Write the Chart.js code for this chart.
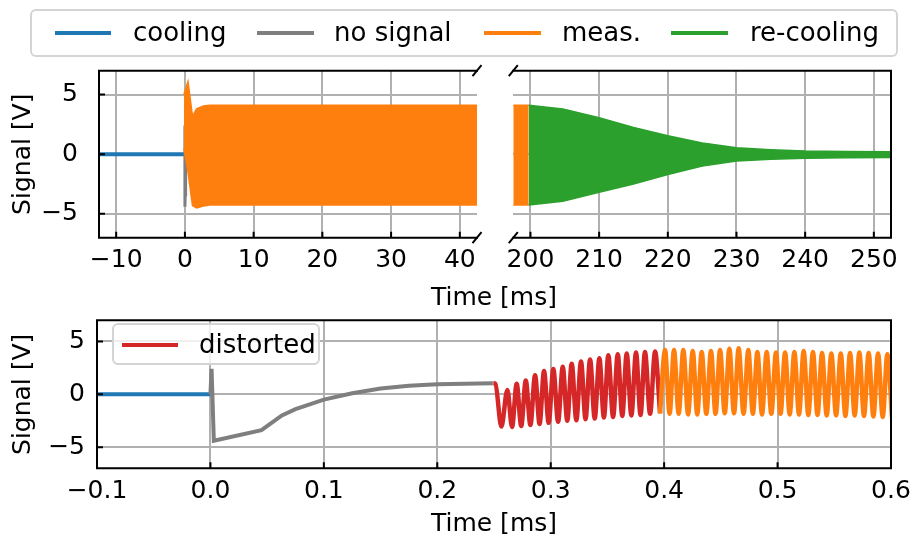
<!DOCTYPE html>
<html lang="en">
<head>
  <meta charset="UTF-8" />
  <title>Signal trace</title>
  <script src="https://cdn.jsdelivr.net/npm/chart.js"></script>
  <style>
    body { margin: 0; background: #fff; }
    #fig {
      position: relative;
      width: 914px;
      height: 537px;
      overflow: hidden;
      font-family: 'DejaVu Sans', sans-serif;
      color: #000;
    }
    .panel { position: absolute; }
    .legend-box {
      position: absolute;
      box-sizing: border-box;
      border: 2px solid #d4d4d4;
      border-radius: 6px;
      background: rgba(255, 255, 255, 0.8);
    }
    .handle { position: absolute; height: 4px; }
    .lbl { position: absolute; font-size: 26px; line-height: 30px; white-space: nowrap; }
    .axis-title { position: absolute; font-size: 25px; line-height: 30px; text-align: center; white-space: nowrap; }
  </style>
</head>
<body>
<div id="fig">
  <div class="panel" style="left:0;top:50px"><canvas id="topLeft" width="500" height="260"></canvas></div>
  <div class="panel" style="left:490px;top:50px"><canvas id="topRight" width="424" height="260"></canvas></div>
  <div class="panel" style="left:0;top:300px"><canvas id="bottom" width="914" height="237"></canvas></div>

  <!-- shared x title of the two top panels -->
  <div class="axis-title" style="left:394px;top:282px;width:200px">Time [ms]</div>

  <!-- top legend -->
  <div class="legend-box" style="left:30px;top:9px;width:868px;height:48px"></div>
  <div class="handle" style="left:55px;top:31px;width:56px;background:#1f77b4"></div>
  <div class="lbl" style="left:133px;top:17px">cooling</div>
  <div class="handle" style="left:257px;top:31px;width:57px;background:#7f7f7f"></div>
  <div class="lbl" style="left:334px;top:17px">no signal</div>
  <div class="handle" style="left:484px;top:31px;width:57px;background:#ff7f0e"></div>
  <div class="lbl" style="left:562px;top:17px">meas.</div>
  <div class="handle" style="left:671px;top:31px;width:57px;background:#2ca02c"></div>
  <div class="lbl" style="left:750px;top:17px">re-cooling</div>

  <!-- bottom legend -->
  <div class="legend-box" style="left:112px;top:323px;width:208px;height:42px"></div>
  <div class="handle" style="left:122px;top:343px;width:56px;background:#d62728"></div>
  <div class="lbl" style="left:199px;top:329px">distorted</div>
</div>

<script>
  // ---- data ----
  // tick positions
  const signalTicks = [-5, 0, 5];
  const topLeftTicks = [-10, 0, 10, 20, 30, 40];
  const topRightTicks = [200, 210, 220, 230, 240, 250];
  const bottomTicks = [-0.1, 0.0, 0.1, 0.2, 0.3, 0.4, 0.5, 0.6];

  // cooling: flat around 0 V before the pulse (ms)
  const coolingT = [-12.5, 0.0];
  const coolingV = [0.0, 0.0];

  // no signal: spike at 0 then slow recovery until 0.25 ms
  const noSignalT = [0.0, 0.001, 0.003, 0.045, 0.063, 0.075, 0.1, 0.125, 0.15, 0.175, 0.2, 0.249];
  const noSignalV = [0.0, 2.4, -4.4, -3.4, -2.0, -1.4, -0.5, 0.1, 0.55, 0.8, 0.95, 1.05];

  // meas. envelope on the long time base (upper / lower edge of the band)
  const measEnvT = [-0.15, 0.45, 1.1, 1.7, 2.7, 3.6, 42.5, 199.75];
  const measEnvUpper = [5.0, 6.1, 3.2, 3.8, 4.05, 4.1, 4.1, 4.1];
  const measEnvLower = [0.5, -1.5, -4.3, -4.5, -4.35, -4.25, -4.25, -4.25];

  // re-cooling envelope (ms)
  const recoolT = [199.75, 204.7, 210, 215, 220, 225, 230, 235, 240, 246, 252.5];
  const recoolUpper = [4.1, 3.8, 3.05, 2.25, 1.55, 0.95, 0.55, 0.38, 0.27, 0.22, 0.2];
  const recoolLower = [-4.25, -3.95, -3.2, -2.5, -1.7, -1.0, -0.58, -0.42, -0.35, -0.3, -0.28];

  // distorted: first oscillations, extremum by extremum (ms, V)
  const distortedT = [0.2494, 0.2512, 0.2565, 0.2618, 0.2659, 0.2700, 0.2740, 0.2780, 0.2821, 0.2862,
    0.2902, 0.2941, 0.2982, 0.3023, 0.3065, 0.3106, 0.3146, 0.3185, 0.3226, 0.3267, 0.3307, 0.3347,
    0.3388, 0.3429, 0.3469, 0.3508, 0.3550, 0.3591, 0.3631, 0.3670, 0.3711, 0.3752, 0.3792, 0.3831,
    0.3876, 0.3920, 0.3964];
  const distortedV = [1.05, 1.0, -3.05, 0.4, -3.1, 1.0, -3.0, 1.3, -2.9, 1.8, -2.8, 2.2, -2.7, 2.4,
    -2.6, 2.6, -2.5, 2.9, -2.45, 3.1, -2.35, 3.3, -2.3, 3.4, -2.2, 3.7, -2.15, 3.8, -2.05, 3.85,
    -2.0, 3.95, -1.95, 4.0, -1.85, 4.05, -1.8];

  // meas.: steady oscillation after 0.4 ms
  const measOscT = [0.3964, 0.4008, 0.4048, 0.4087, 0.4128, 0.4169, 0.4211, 0.4252, 0.4292, 0.4331,
    0.4372, 0.4413, 0.4453, 0.4493, 0.4534, 0.4575, 0.4616, 0.4657, 0.4700, 0.4742, 0.4782, 0.4822,
    0.4863, 0.4904, 0.4945, 0.4986, 0.5026, 0.5066, 0.5107, 0.5148, 0.5189, 0.5230, 0.5271, 0.5312,
    0.5352, 0.5392, 0.5433, 0.5474, 0.5516, 0.5557, 0.5598, 0.5639, 0.5680, 0.5721, 0.5762, 0.5803,
    0.5845, 0.5886, 0.5927, 0.5968, 0.6009];
  const measOscV = [-1.8, 4.2, -1.85, 4.2, -1.85, 4.2, -1.9, 4.1, -1.9, 4.0, -1.85, 4.1, -1.85, 4.2,
    -1.8, 4.3, -1.8, 4.35, -1.85, 4.2, -1.85, 4.0, -1.9, 4.0, -1.85, 3.95, -1.85, 3.95, -1.9, 4.0,
    -1.9, 4.1, -1.95, 4.0, -1.95, 3.9, -2.0, 3.85, -2.0, 3.85, -2.05, 3.9, -2.0, 3.95, -2.05, 3.9,
    -2.1, 3.85, -2.15, 3.8, -2.2];

  // ---- styling helpers ----
  const C = { blue: '#1f77b4', gray: '#7f7f7f', orange: '#ff7f0e', green: '#2ca02c', red: '#d62728' };
  Chart.defaults.font.family = "'DejaVu Sans', sans-serif";
  Chart.defaults.font.size = 25;
  Chart.defaults.color = '#000';

  const pts = (xs, ys) => xs.map((x, i) => ({ x: x, y: ys[i] }));
  const minus = s => String(s).replace('-', '\u2212');

  function line(xs, ys, color, width, extra) {
    return Object.assign({
      data: pts(xs, ys), borderColor: color, backgroundColor: color,
      borderWidth: width, pointRadius: 0, fill: false, clip: 0
    }, extra || {});
  }

  function axis(min, max, ticks, opts) {
    return {
      type: 'linear', min: min, max: max,
      afterBuildTicks: s => { s.ticks = ticks.map(v => ({ value: v })); },
      afterFit: s => {
        if (opts.width != null) s.width = opts.width;
        if (opts.height != null) s.height = opts.height;
        // keep the plot area exactly where the layout padding puts it
        s.paddingTop = s.paddingBottom = s.paddingLeft = s.paddingRight = 0;
      },
      grid: { color: '#b0b0b0', lineWidth: 2, drawTicks: false },
      border: { display: false },
      ticks: {
        display: opts.labels !== false, padding: opts.pad, autoSkip: false, maxRotation: 0,
        callback: opts.fmt || (v => minus(v))
      },
      title: opts.title ? { display: true, text: opts.title, padding: opts.titlePad, font: { size: 25 } } : { display: false }
    };
  }

  // spines, inward ticks and axis-break marks
  const frame = {
    id: 'frame',
    afterDatasetsDraw(chart, args, o) {
      const { ctx, chartArea: a, scales } = chart;
      ctx.save();
      ctx.strokeStyle = '#000';
      ctx.lineWidth = 2;
      ctx.beginPath();
      scales.x.ticks.forEach(t => {
        const px = scales.x.getPixelForValue(t.value);
        ctx.moveTo(px, a.bottom); ctx.lineTo(px, a.bottom - 6);
      });
      if (o.left) scales.y.ticks.forEach(t => {
        const py = scales.y.getPixelForValue(t.value);
        ctx.moveTo(a.left, py); ctx.lineTo(a.left + 6, py);
      });
      ctx.stroke();

      ctx.lineCap = 'square';
      ctx.beginPath();
      ctx.moveTo(a.left, a.top); ctx.lineTo(a.right, a.top);
      ctx.moveTo(a.left, a.bottom); ctx.lineTo(a.right, a.bottom);
      if (o.left) { ctx.moveTo(a.left, a.top); ctx.lineTo(a.left, a.bottom); }
      if (o.right) { ctx.moveTo(a.right, a.top); ctx.lineTo(a.right, a.bottom); }
      ctx.stroke();

      if (o.breakAt) {
        const bx = o.breakAt === 'right' ? a.right : a.left;
        ctx.lineCap = 'butt';
        ctx.beginPath();
        [a.top, a.bottom].forEach(y => { ctx.moveTo(bx - 4.5, y + 5.5); ctx.lineTo(bx + 4.5, y - 5.5); });
        ctx.stroke();
      }
      ctx.restore();
    }
  };

  function makeChart(id, datasets, scales, padding, frameOpts) {
    return new Chart(document.getElementById(id), {
      type: 'line',
      data: { datasets: datasets },
      options: {
        responsive: false, animation: false, devicePixelRatio: 1,
        layout: { padding: padding },
        plugins: { legend: { display: false }, tooltip: { enabled: false }, frame: frameOpts },
        scales: scales
      },
      plugins: [frame]
    });
  }

  // top left: -12.5 .. 42.5 ms
  makeChart('topLeft', [
    line(measEnvT, measEnvUpper, C.orange, 1.5, { fill: '+1' }),
    line(measEnvT, measEnvLower, C.orange, 1.5),
    line(noSignalT, noSignalV, C.gray, 3),
    line(coolingT, coolingV, C.blue, 4)
  ], {
    x: axis(-12.5, 42.5, topLeftTicks, { height: 60, pad: 8 }),
    y: axis(-7, 7, signalTicks, { width: 99, pad: 21, title: 'Signal [V]', titlePad: { top: 8, bottom: 0 } })
  }, { left: 0, right: 23, top: 20.7, bottom: 12.3 }, { left: true, right: false, breakAt: 'right' });

  // top right: 197.5 .. 252.5 ms
  makeChart('topRight', [
    line(recoolT, recoolUpper, C.green, 1.5, { fill: '+1' }),
    line(recoolT, recoolLower, C.green, 1.5),
    line(measEnvT, measEnvUpper, C.orange, 1.5, { fill: '+1' }),
    line(measEnvT, measEnvLower, C.orange, 1.5)
  ], {
    x: axis(197.5, 252.5, topRightTicks, { height: 60, pad: 8 }),
    y: axis(-7, 7, signalTicks, { width: 23.3, pad: 0, labels: false })
  }, { left: 0, right: 23, top: 20.7, bottom: 12.3 }, { left: false, right: true, breakAt: 'left' });

  // bottom: zoom on the first 0.6 ms
  makeChart('bottom', [
    line(measOscT, measOscV, C.orange, 4.5, { cubicInterpolationMode: 'monotone' }),
    line(distortedT, distortedV, C.red, 4.5, { cubicInterpolationMode: 'monotone' }),
    line(noSignalT, noSignalV, C.gray, 4),
    line(coolingT, coolingV, C.blue, 4)
  ], {
    x: axis(-0.1, 0.6, bottomTicks, { height: 68.7, pad: 8, fmt: v => minus(v.toFixed(1)),
      title: 'Time [ms]', titlePad: { top: 0, bottom: -2 } }),
    y: axis(-7, 7, signalTicks, { width: 97, pad: 12, title: 'Signal [V]', titlePad: { top: 8, bottom: 0 } })
  }, { left: 0, right: 23, top: 20.3, bottom: 0 }, { left: true, right: true });
</script>
</body>
</html>
